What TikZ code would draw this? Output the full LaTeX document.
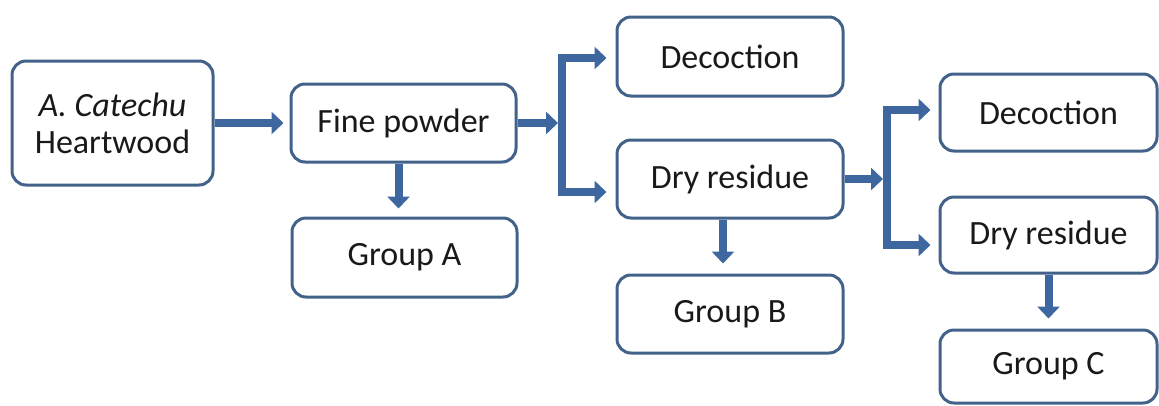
\documentclass[tikz,border=0pt]{standalone}
\usepackage{fontspec}
\setmainfont{Carlito}
\usetikzlibrary{arrows.meta,calc}
\definecolor{boxline}{RGB}{66,98,138}
\definecolor{arrcol}{RGB}{62,103,160}
\definecolor{txt}{RGB}{25,25,25}
\begin{document}
\begin{tikzpicture}[x=1pt,y=-1pt,
  box/.style={draw=boxline, line width=3pt, rounded corners=14pt, fill=white,
    inner sep=0pt, text=txt, font=\fontsize{34}{37}\selectfont, align=center},
  arr/.style={draw=arrcol, line width=8pt, line join=miter, -{Triangle[length=12pt,width=22pt]}},
  darr/.style={draw=arrcol, line width=8pt, line join=miter,
    {Triangle[length=12pt,width=22pt]}-{Triangle[length=12pt,width=22pt]}}]
\useasboundingbox (0,0) rectangle (1159,405);

% column 1
\node[box, minimum width=201pt, minimum height=124pt] (src) at (112.5,123) {\textit{A. Catechu}\\Heartwood};
% column 2
\node[box, minimum width=225pt, minimum height=78pt] (fp) at (403.5,123) {Fine powder};
\node[box, minimum width=225pt, minimum height=79pt] (ga) at (404.5,257.5) {Group A};
% column 3
\node[box, minimum width=226pt, minimum height=79pt] (dec1) at (730,56.5) {Decoction};
\node[box, minimum width=226pt, minimum height=78pt] (dr1) at (730,179) {Dry residue};
\node[box, minimum width=226pt, minimum height=78pt] (gb) at (730,314) {Group B};
% column 4
\node[box, minimum width=217pt, minimum height=77pt] (dec2) at (1048.5,112.5) {Decoction};
\node[box, minimum width=217pt, minimum height=76pt] (dr2) at (1048.5,235) {Dry residue};
\node[box, minimum width=217pt, minimum height=73pt] (gc) at (1048.5,366.5) {Group C};

% junction coordinates
\coordinate (j1) at (558,123);
\coordinate (b1t) at (562,58);
\coordinate (b1b) at (562,192);
\coordinate (j2) at (883,179);
\coordinate (b2t) at (887,110);
\coordinate (b2b) at (887,245);

% connectors
\draw[arr, shorten >=6pt] (src.east) -- (fp.west);
\draw[arr, shorten >=8pt] ([xshift=-5pt]fp.south) -- ([xshift=-5pt]fp.south |- ga.north);
\draw[arr] (fp.east) -- (j1);
\draw[darr, shorten <=9pt, shorten >=9pt] (b1t -| dec1.west) -- (b1t) -- (b1b) -- (b1b -| dr1.west);
\draw[arr, shorten >=10pt] ([xshift=-7pt]dr1.south) -- ([xshift=-7pt]dr1.south |- gb.north);
\draw[arr] (dr1.east) -- (j2);
\draw[darr, shorten <=8pt, shorten >=8pt] (b2t -| dec2.west) -- (b2t) -- (b2b) -- (b2b -| dr2.west);
\draw[arr, shorten >=10pt] (dr2.south) -- (gc.north);
\end{tikzpicture}
\end{document}
